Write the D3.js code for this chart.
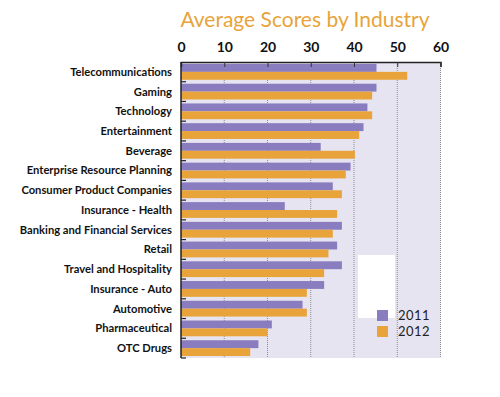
<!DOCTYPE html>
<html>
<head>
  <meta charset="UTF-8">
  <style>
    body {
      margin: 0;
      background-color: white;
      font-family: Lato, "Open Sans", sans-serif;
    }
    svg {
      display: block;
    }
  </style>
</head>
<body>

<svg width="500" height="397"></svg>

<script src="https://d3js.org/d3.v7.min.js"></script>

<script>
let industries = ["Telecommunications", "Gaming", "Technology", "Entertainment", "Beverage",
  "Enterprise Resource Planning", "Consumer Product Companies", "Insurance - Health",
  "Banking and Financial Services", "Retail", "Travel and Hospitality", "Insurance - Auto",
  "Automotive", "Pharmaceutical", "OTC Drugs"];
let scores2011 = [45.2, 45.2, 43.1, 42.2, 32.3, 39.2, 35.1, 24.0, 37.2, 36.1, 37.2, 33.1, 28.1, 21.0, 17.9];
let scores2012 = [52.3, 44.2, 44.2, 41.2, 40.2, 38.1, 37.2, 36.1, 35.1, 34.1, 33.1, 29.1, 29.1, 20.0, 16.0];
let years = ["2011", "2012"];
let xTicks = [0, 10, 20, 30, 40, 50, 60];

let colors = {"2011": "#8a7dbf", "2012": "#e8a43a"};

let svg = d3.select("svg");

let plotLeft = 181, plotRight = 440.5, plotTop = 62, plotBottom = 358;

let x = d3.scaleLinear().domain([0, 60]).range([plotLeft, plotRight]);
let y = d3.scaleBand().domain(industries).range([plotTop, plotBottom])
    .paddingInner(0.2).paddingOuter(0.1);
let y2 = d3.scaleBand().domain(years).range([0, y.bandwidth()]);

// title
svg.append("text")
    .attr("x", 305)
    .attr("y", 27)
    .attr("text-anchor", "middle")
    .attr("fill", "#e8a43a")
    .style("font-size", "21px")
    .text("Average Scores by Industry");

// plot background
svg.append("rect")
    .attr("x", plotLeft).attr("y", plotTop)
    .attr("width", plotRight - plotLeft).attr("height", plotBottom - plotTop)
    .attr("fill", "#e7e4f1");

// odd white patch near the legend
svg.append("rect")
    .attr("x", 358).attr("y", 255)
    .attr("width", 37).attr("height", 63)
    .attr("fill", "white");

// dotted gridlines
svg.append("g")
    .selectAll("line")
    .data(xTicks.slice(1))
    .enter()
    .append("line")
    .attr("x1", d => x(d)).attr("x2", d => x(d))
    .attr("y1", plotTop).attr("y2", plotBottom)
    .attr("stroke", "#8c8c8c")
    .attr("stroke-width", 1)
    .attr("stroke-dasharray", "1,1");

// bars
let rows = industries.map((d, i) => ({name: d, values: [
  {year: "2011", v: scores2011[i]},
  {year: "2012", v: scores2012[i]}
]}));

svg.append("g")
    .selectAll("g")
    .data(rows)
    .enter()
    .append("g")
    .attr("transform", d => "translate(0," + y(d.name) + ")")
    .selectAll("rect")
    .data(d => d.values)
    .enter()
    .append("rect")
    .attr("x", x(0))
    .attr("y", d => y2(d.year))
    .attr("width", d => x(d.v) - x(0))
    .attr("height", y2.bandwidth())
    .attr("fill", d => colors[d.year]);

// top axis
let xAxis = d3.axisTop(x).tickValues(xTicks).tickSize(-5).tickPadding(10);
let gx = svg.append("g")
    .attr("transform", "translate(0," + plotTop + ")")
    .call(xAxis);
gx.select(".domain").attr("stroke", "#222").attr("stroke-width", 1.5);
gx.selectAll(".tick line").attr("stroke", "#333");
gx.selectAll(".tick text")
    .attr("fill", "#111")
    .style("font-family", "Lato, sans-serif")
    .style("font-weight", "bold")
    .style("font-size", "14px");

// left axis with ticks at group boundaries
svg.append("line")
    .attr("x1", plotLeft).attr("x2", plotLeft)
    .attr("y1", plotTop).attr("y2", plotBottom)
    .attr("stroke", "#222").attr("stroke-width", 1.5);

svg.append("g")
    .selectAll("line")
    .data(industries)
    .enter()
    .append("line")
    .attr("x1", plotLeft).attr("x2", plotLeft + 5)
    .attr("y1", d => y(d) + y.bandwidth() + y.step() * y.paddingInner() / 2)
    .attr("y2", d => y(d) + y.bandwidth() + y.step() * y.paddingInner() / 2)
    .attr("stroke", "#222").attr("stroke-width", 1.2);

// category labels
svg.append("g")
    .selectAll("text")
    .data(industries)
    .enter()
    .append("text")
    .attr("x", 172)
    .attr("y", d => y(d) + y.bandwidth() / 2)
    .attr("dy", "0.35em")
    .attr("text-anchor", "end")
    .attr("fill", "#111")
    .style("font-weight", "bold")
    .style("font-size", "11.2px")
    .text(d => d);

// legend
let legend = svg.append("g")
    .selectAll("g")
    .data(years)
    .enter()
    .append("g")
    .attr("transform", (d, i) => "translate(377," + (310 + i * 16) + ")");

legend.append("rect")
    .attr("width", 11).attr("height", 11)
    .attr("fill", d => colors[d]);

legend.append("text")
    .attr("x", 21).attr("y", 10)
    .attr("fill", "#222")
    .style("font-size", "13px")
    .style("letter-spacing", "0.5px")
    .text(d => d);
</script>

</body>
</html>
